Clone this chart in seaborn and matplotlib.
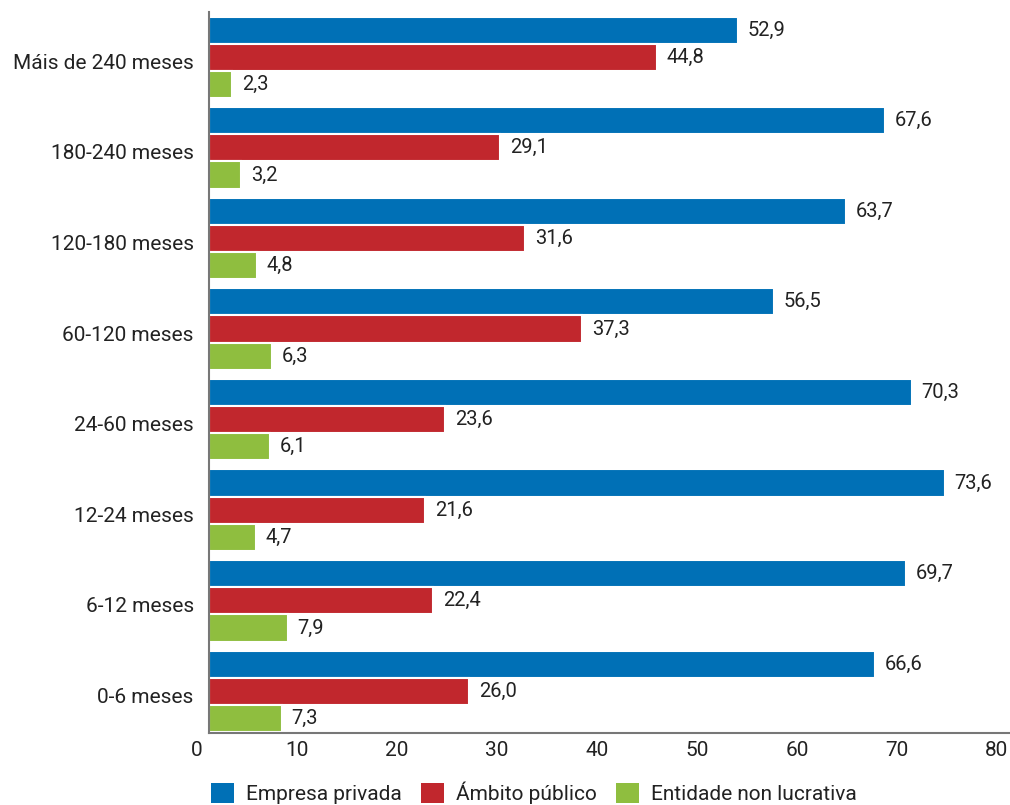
import matplotlib
matplotlib.use('Agg')
import matplotlib.pyplot as plt
import matplotlib.transforms as mtransforms
from matplotlib.patches import Patch
import seaborn as sns
import pandas as pd

categorias = ['Máis de 240 meses', '180-240 meses', '120-180 meses', '60-120 meses',
              '24-60 meses', '12-24 meses', '6-12 meses', '0-6 meses']
empresa_privada = [52.9, 67.6, 63.7, 56.5, 70.3, 73.6, 69.7, 66.6]
ambito_publico = [44.8, 29.1, 31.6, 37.3, 23.6, 21.6, 22.4, 26.0]
entidade_non_lucrativa = [2.3, 3.2, 4.8, 6.3, 6.1, 4.7, 7.9, 7.3]
series = ['Empresa privada', 'Ámbito público', 'Entidade non lucrativa']
cores = ['#0070b6', '#c1272d', '#8fbe3f']

df = pd.DataFrame({
    'categoria': categorias * 3,
    'serie': [series[0]] * 8 + [series[1]] * 8 + [series[2]] * 8,
    'valor': empresa_privada + ambito_publico + entidade_non_lucrativa,
})

sns.set_style('white')
plt.rcParams['font.family'] = ['Roboto', 'DejaVu Sans']
plt.rcParams['text.color'] = '#222222'

fig = plt.figure(figsize=(10.1, 8.05), dpi=100)
ax = fig.add_axes([209 / 1010, 1 - 733 / 805, 800 / 1010, 721 / 805])

sns.barplot(data=df, x='valor', y='categoria', hue='serie', palette=cores,
            orient='h', width=0.9, edgecolor='white', linewidth=1.5,
            saturation=1, legend=False, ax=ax)

for cont in ax.containers:
    ax.bar_label(cont, labels=[f'{v:.1f}'.replace('.', ',') for v in cont.datavalues],
                 padding=7, fontsize=14.5, color='#222222')

ax.set_xlim(0, 80)
ax.set_ylim(7.46, -0.5)
ax.set_xticks(range(0, 81, 10))
ax.set_xlabel('')
ax.set_ylabel('')
ax.tick_params(axis='both', length=0, labelsize=15, colors='#222222')
ax.tick_params(axis='x', pad=6)
ax.tick_params(axis='y', pad=11)
offset = mtransforms.ScaledTranslation(-0.12, 0, fig.dpi_scale_trans)
for lbl in ax.get_xticklabels():
    lbl.set_transform(lbl.get_transform() + offset)
down = mtransforms.ScaledTranslation(0, -0.04, fig.dpi_scale_trans)
for lbl in ax.get_yticklabels():
    lbl.set_transform(lbl.get_transform() + down)

for s in ['top', 'right']:
    ax.spines[s].set_visible(False)
for s in ['left', 'bottom']:
    ax.spines[s].set_color('#777777')
    ax.spines[s].set_linewidth(1.5)

handles = [Patch(facecolor=c, edgecolor='none') for c in cores]
fig.legend(handles, series, loc='center', bbox_to_anchor=(534 / 1010, 1 - 793 / 805),
           ncol=3, frameon=False, fontsize=15, handlelength=1.1, handleheight=1.1,
           handletextpad=0.6, columnspacing=0.9)

fig.savefig('out.png', dpi=100)
